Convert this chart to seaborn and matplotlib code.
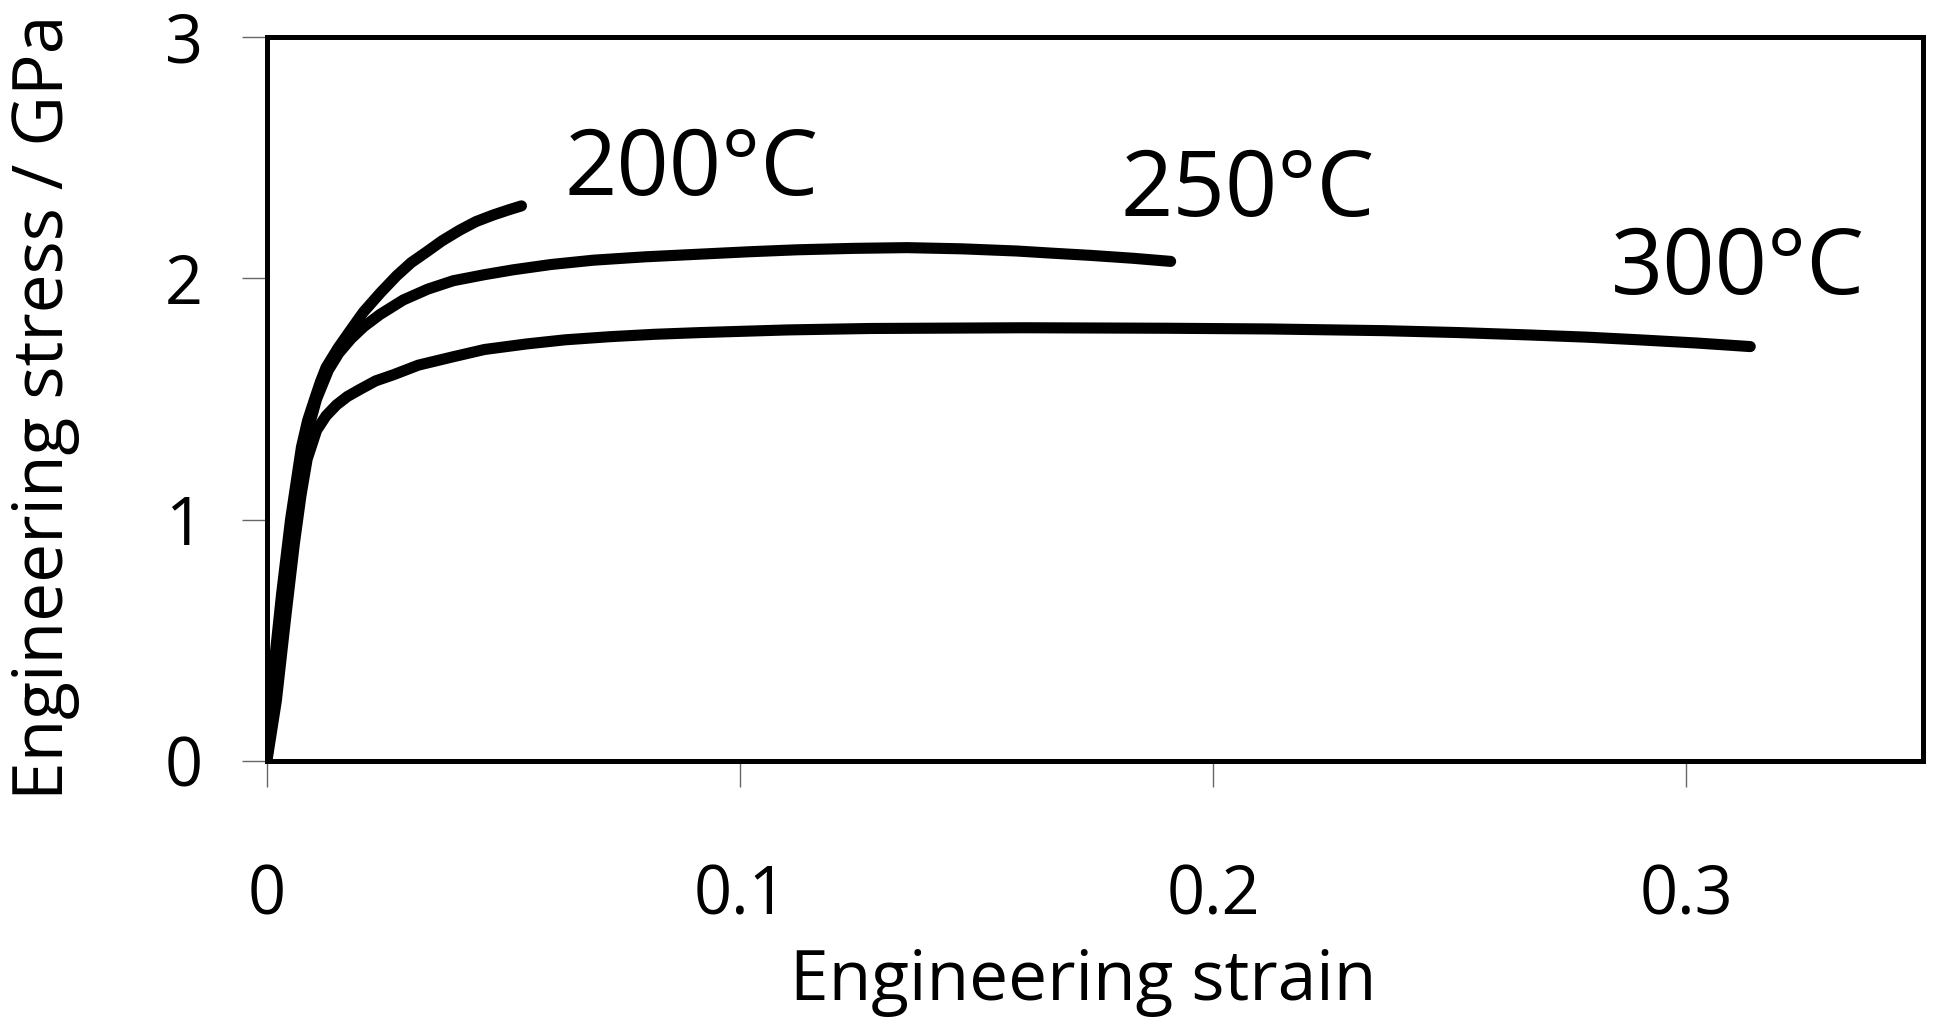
import numpy as np
import pandas as pd
import matplotlib
matplotlib.use("Agg")
import matplotlib.pyplot as plt
import seaborn as sns

# Engineering stress-strain curves (stress in GPa) at three test temperatures
strain_200 = [0.0, 0.0010, 0.0031, 0.0050, 0.0073, 0.0086, 0.0101, 0.0113, 0.0125,
              0.0150, 0.0175, 0.0204, 0.0240, 0.0274, 0.0305, 0.0338, 0.0370,
              0.0408, 0.0442, 0.0478, 0.0510, 0.0538]
stress_200 = [0.0, 0.30, 0.69, 1.00, 1.30, 1.41, 1.50, 1.57, 1.63,
              1.71, 1.78, 1.86, 1.94, 2.01, 2.065, 2.11, 2.155,
              2.20, 2.235, 2.262, 2.283, 2.30]

strain_250 = [0.0, 0.0012, 0.0033, 0.0053, 0.0077, 0.0105, 0.0130, 0.0152, 0.0178,
              0.0205, 0.0239, 0.0288, 0.0340, 0.0394, 0.0460, 0.0520, 0.0600,
              0.0690, 0.0800, 0.0915, 0.1020, 0.1120, 0.1240, 0.1353, 0.1470,
              0.1585, 0.1660, 0.1740, 0.1830, 0.1910]
stress_250 = [0.0, 0.30, 0.70, 1.00, 1.30, 1.50, 1.62, 1.69, 1.75,
              1.80, 1.85, 1.91, 1.955, 1.99, 2.015, 2.035, 2.057,
              2.075, 2.089, 2.100, 2.110, 2.118, 2.124, 2.127, 2.122,
              2.113, 2.104, 2.095, 2.083, 2.070]

strain_300 = [0.0, 0.0020, 0.0040, 0.0058, 0.0072, 0.0085, 0.0105, 0.0125, 0.0147,
              0.0170, 0.0197, 0.0230, 0.0267, 0.0320, 0.0394, 0.0460, 0.0549,
              0.0630, 0.0725, 0.0820, 0.0915, 0.1100, 0.1275, 0.1600, 0.1900,
              0.2120, 0.2360, 0.2520, 0.2670, 0.2790, 0.2900, 0.3020, 0.3135]
stress_300 = [0.0, 0.25, 0.60, 0.90, 1.10, 1.25, 1.37, 1.43, 1.475,
              1.51, 1.54, 1.575, 1.60, 1.64, 1.675, 1.705, 1.728,
              1.745, 1.758, 1.768, 1.775, 1.786, 1.792, 1.795, 1.793,
              1.790, 1.783, 1.775, 1.765, 1.756, 1.745, 1.732, 1.717]

temperatures = ["200°C", "250°C", "300°C"]
label_x = [0.063, 0.1803, 0.284]
label_y = [2.345, 2.259, 1.935]

x_ticks = [0, 0.1, 0.2, 0.3]
x_tick_labels = ["0", "0.1", "0.2", "0.3"]
y_ticks = [0, 1, 2, 3]
y_tick_labels = ["0", "1", "2", "3"]

frames = []
for name, xs, ys in zip(temperatures,
                        [strain_200, strain_250, strain_300],
                        [stress_200, stress_250, stress_300]):
    frames.append(pd.DataFrame({"strain": xs, "stress": ys, "temperature": name}))
df = pd.concat(frames, ignore_index=True)

sns.set_style("white")
plt.rcParams["font.family"] = ["Open Sans", "DejaVu Sans"]
plt.rcParams["text.color"] = "black"
plt.rcParams["axes.labelcolor"] = "black"
plt.rcParams["xtick.labelcolor"] = "black"
plt.rcParams["ytick.labelcolor"] = "black"

fig = plt.figure(figsize=(19.34, 10.18), dpi=100)
ax = fig.add_axes([0.138, 0.2525, 0.9943 - 0.138, 0.9637 - 0.2525])

sns.lineplot(data=df, x="strain", y="stress", hue="temperature",
             palette=["black"] * 3, sort=False, estimator=None,
             lw=8, legend=False, ax=ax,
             solid_capstyle="round", solid_joinstyle="round")

for name, tx, ty in zip(temperatures, label_x, label_y):
    ax.text(tx, ty, name, ha="left", va="baseline", fontsize=66, color="black")

ax.set_xlim(0, 0.35)
ax.set_ylim(0, 3)
ax.set_xticks(x_ticks)
ax.set_xticklabels(x_tick_labels)
ax.set_yticks(y_ticks)
ax.set_yticklabels(y_tick_labels)

ax.tick_params(axis="x", direction="out", length=18.5, width=1.0, color="#666666",
               pad=55, labelsize=48, bottom=True, labelcolor="black")
ax.tick_params(axis="y", direction="out", length=18, width=1.0, color="#666666",
               pad=28, labelsize=48, left=True, labelcolor="black")

for spine in ax.spines.values():
    spine.set_visible(True)
    spine.set_color("black")
    spine.set_linewidth(3.6)

ax.set_xlabel("Engineering strain", fontsize=50, color="black")
ax.set_ylabel("Engineering stress / GPa", fontsize=50, color="black")
ax.xaxis.set_label_coords(0.493, -0.257)
ax.xaxis.label.set_va("top")
ax.yaxis.set_label_coords(-0.113, 0.489)

fig.savefig("out.png", dpi=100, facecolor="white")
